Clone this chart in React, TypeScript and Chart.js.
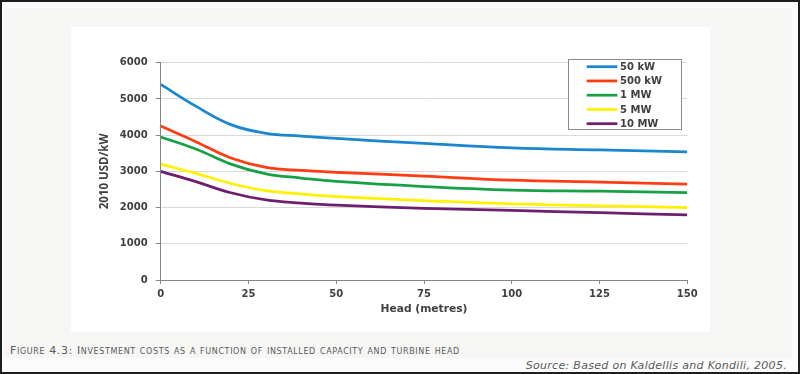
import React, { useEffect, useRef } from 'react';
import { Chart, registerables } from 'chart.js';

Chart.register(...registerables);

// ---- data ----
const heads = [0, 10, 20, 30, 40, 50, 75, 100, 125, 150];
const cost50kW = [5400, 4800, 4290, 4050, 3975, 3910, 3770, 3645, 3590, 3540];
const cost500kW = [4250, 3820, 3370, 3110, 3025, 2975, 2870, 2755, 2705, 2650];
const cost1MW = [3950, 3615, 3200, 2930, 2815, 2720, 2580, 2485, 2455, 2415];
const cost5MW = [3200, 2945, 2665, 2465, 2375, 2305, 2195, 2100, 2050, 1995];
const cost10MW = [3000, 2715, 2410, 2210, 2125, 2065, 1980, 1920, 1860, 1795];
const seriesLabels = ['50 kW', '500 kW', '1 MW', '5 MW', '10 MW'];
const seriesColors = ['#1a86cf', '#ff3c12', '#17a146', '#fff200', '#6d1f6b'];
const xTickValues = [0, 25, 50, 75, 100, 125, 150];
const yTickValues = [0, 1000, 2000, 3000, 4000, 5000, 6000];
const xTitle = 'Head (metres)';
const yTitle = '2010 USD/kW';
const captionText = 'Figure 4.3: Investment costs as a function of installed capacity and turbine head';
const sourceText = 'Source: Based on Kaldellis and Kondili, 2005.';

const seriesValues = [cost50kW, cost500kW, cost1MW, cost5MW, cost10MW];

const TICK_FONT = { family: '"DejaVu Sans"', size: 10, weight: 'bold' as const };
const TEXT_COLOR = '#404040';
const AXIS_COLOR = '#868686';
const GRID_COLOR = '#d9d9d9';

const boxLegend = {
  id: 'boxLegend',
  afterDatasetsDraw(chart: any) {
    const { ctx, chartArea } = chart;
    const left = chartArea.right - 119;
    const top = chartArea.top - 3.4;
    const w = 113;
    const h = 70;
    ctx.save();
    ctx.fillStyle = '#ffffff';
    ctx.fillRect(left, top, w, h);
    ctx.strokeStyle = '#8c8c8c';
    ctx.lineWidth = 1;
    ctx.strokeRect(Math.round(left) + 0.5, Math.round(top) + 0.5, w, h);
    chart.data.datasets.forEach((ds: any, i: number) => {
      const y = top + 7.4 + i * 14.25;
      ctx.strokeStyle = ds.borderColor;
      ctx.lineWidth = 2.75;
      ctx.beginPath();
      ctx.moveTo(left + 18.4, y);
      ctx.lineTo(left + 49, y);
      ctx.stroke();
      ctx.fillStyle = TEXT_COLOR;
      ctx.font = 'bold 10px "DejaVu Sans"';
      ctx.textBaseline = 'middle';
      ctx.textAlign = 'left';
      ctx.fillText(ds.label, left + 51.7, y + 0.5);
    });
    ctx.restore();
  },
};

export default function App() {
  const canvasRef = useRef<HTMLCanvasElement | null>(null);

  useEffect(() => {
    const canvas = canvasRef.current;
    if (!canvas) return;
    const chart = new Chart(canvas, {
      type: 'line',
      data: {
        datasets: seriesLabels.map((label, i) => ({
          label,
          data: heads.map((h, j) => ({ x: h, y: seriesValues[i][j] })),
          borderColor: seriesColors[i],
          backgroundColor: seriesColors[i],
          borderWidth: 2.75,
          pointRadius: 0,
          fill: false,
          tension: 0.4,
        })),
      },
      options: {
        responsive: false,
        animation: false,
        devicePixelRatio: 1,
        layout: { padding: { left: 0, right: 22.7, top: 35.7, bottom: 0 } },
        plugins: {
          legend: { display: false },
          tooltip: { enabled: false },
        },
        scales: {
          x: {
            type: 'linear',
            min: 0,
            max: 150,
            afterBuildTicks: (scale: any) => {
              scale.ticks = xTickValues.map((v) => ({ value: v }));
            },
            afterFit: (scale: any) => {
              scale.height = 52;
            },
            grid: {
              drawOnChartArea: false,
              drawTicks: true,
              tickLength: 4,
              tickColor: AXIS_COLOR,
            },
            border: { color: AXIS_COLOR, width: 1 },
            ticks: {
              font: TICK_FONT,
              color: TEXT_COLOR,
              padding: 4,
              maxRotation: 0,
              autoSkip: false,
              callback: (v: any) => String(v),
            },
            title: {
              display: true,
              text: xTitle,
              color: TEXT_COLOR,
              font: { family: '"DejaVu Sans"', size: 10.7, weight: 'bold' as const },
              padding: { top: 0, bottom: 16.4 },
            },
          },
          y: {
            min: 0,
            max: 6000,
            afterBuildTicks: (scale: any) => {
              scale.ticks = yTickValues.map((v) => ({ value: v }));
            },
            afterFit: (scale: any) => {
              scale.width = 89.7;
            },
            grid: {
              color: (ctx: any) => (ctx.tick && ctx.tick.value === 0 ? AXIS_COLOR : GRID_COLOR),
              lineWidth: 1,
              drawTicks: true,
              tickLength: 5,
              tickColor: AXIS_COLOR,
            },
            border: { color: AXIS_COLOR, width: 1 },
            ticks: {
              font: TICK_FONT,
              color: TEXT_COLOR,
              padding: 8,
              autoSkip: false,
              callback: (v: any) => String(v),
            },
            title: {
              display: true,
              text: yTitle,
              color: TEXT_COLOR,
              font: { family: '"Open Sans"', size: 11.5, weight: 'bold' as const },
              padding: { top: 26.5, bottom: 0 },
            },
          },
        },
      },
      plugins: [boxLegend],
    });
    return () => chart.destroy();
  }, []);

  return (
    <div
      style={{
        position: 'fixed',
        left: 0,
        top: 0,
        width: 800,
        height: 374,
        boxSizing: 'border-box',
        border: '2px solid #1e1e1e',
        background: '#fcfcfc',
        overflow: 'hidden',
      }}
    >
      <div style={{ position: 'absolute', left: 3, top: 6, width: 787, height: 350, background: '#f6f6f4' }} />
      <div style={{ position: 'absolute', left: 69, top: 25, width: 639, height: 305, background: '#ffffff' }}>
        <canvas ref={canvasRef} width={639} height={305} style={{ width: 639, height: 305, display: 'block' }} />
      </div>
      <div
        style={{
          position: 'absolute',
          left: 8,
          top: 342.5,
          fontFamily: '"DejaVu Sans"',
          fontSize: 11,
          lineHeight: '11px',
          letterSpacing: '0.62px',
          fontVariant: 'small-caps',
          color: '#5a5a5a',
          whiteSpace: 'nowrap',
        }}
      >
        {captionText}
      </div>
      <div
        style={{
          position: 'absolute',
          right: 11,
          top: 357.5,
          fontFamily: '"DejaVu Sans"',
          fontSize: 11,
          lineHeight: '11px',
          letterSpacing: '0.3px',
          fontStyle: 'italic',
          color: '#5a5a5a',
          whiteSpace: 'nowrap',
        }}
      >
        {sourceText}
      </div>
    </div>
  );
}
